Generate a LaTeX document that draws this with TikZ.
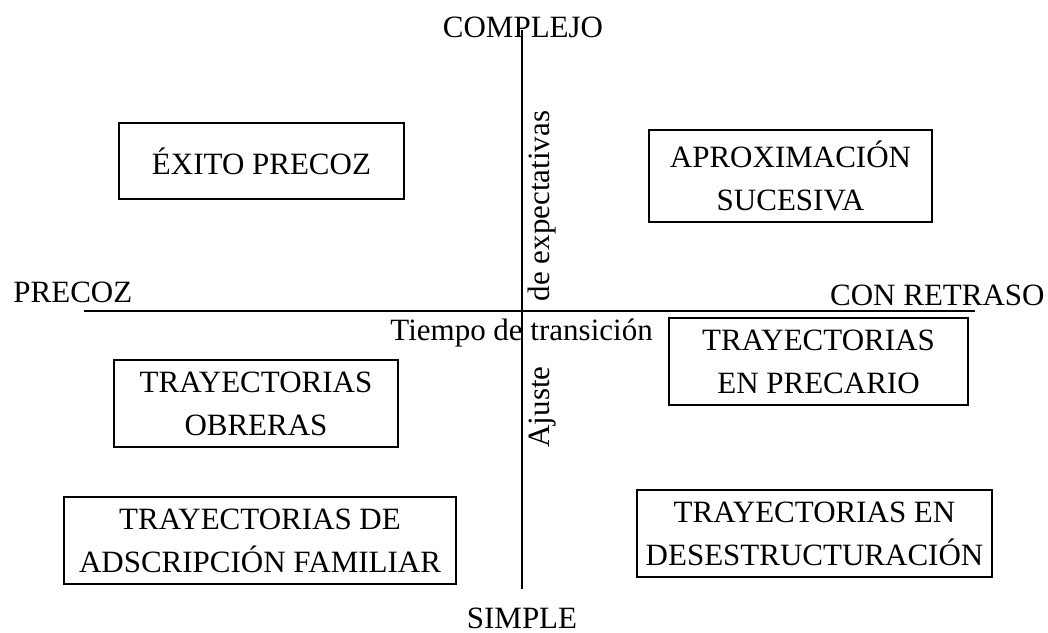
\documentclass[tikz,border=0pt]{standalone}
\usepackage{fontspec}
\setmainfont{Liberation Serif}
\newcommand\lblfont{\fontsize{15.5}{21.5}\selectfont}
\begin{document}
\begin{tikzpicture}[x=0.5pt,y=-0.5pt,
  quadbox/.style={draw, line width=1pt, inner sep=0pt, align=center, font=\lblfont},
  axislabel/.style={inner sep=0pt, font=\lblfont},
  axisline/.style={line width=1pt}]
\useasboundingbox[fill=white] (0,0) rectangle (1048,632);
% axes
\coordinate (top) at (521.5,30);
\coordinate (bot) at (521.5,589);
\coordinate (lft) at (84,310.5);
\coordinate (rgt) at (975,310.5);
\draw[axisline] (top) -- (bot);
\draw[axisline] (lft) -- (rgt);
% axis labels
\node[axislabel, anchor=base] (complejo) at (523,37) {COMPLEJO};
\node[axislabel, anchor=base] (simple) at (522,628) {SIMPLE};
\node[axislabel, anchor=base west] (precoz) at (13,302) {PRECOZ};
\node[axislabel, anchor=base east] (retraso) at (1045,305) {CON RETRASO};
\node[axislabel, anchor=base west] (tiempo) at (390,340) {Tiempo de transición};
\node[axislabel, rotate=90] (expect) at (542,206) {de expectativas};
\node[axislabel, rotate=90] (ajuste) at (543,407) {Ajuste};
% boxes
\node[quadbox, minimum width=142.5pt, minimum height=38pt] (exito) at (261.5,161) {ÉXITO PRECOZ};
\node[quadbox, minimum width=141.5pt, minimum height=46pt] (aprox) at (790.5,176) {APROXIMACIÓN\\SUCESIVA};
\node[quadbox, minimum width=142pt, minimum height=43.5pt] (obreras) at (256,403.5) {TRAYECTORIAS\\OBRERAS};
\node[quadbox, minimum width=149.5pt, minimum height=43.5pt] (precario) at (818.5,361.5) {TRAYECTORIAS\\EN PRECARIO};
\node[quadbox, minimum width=196pt, minimum height=43.5pt] (familiar) at (260,540.5) {TRAYECTORIAS DE\\ADSCRIPCIÓN FAMILIAR};
\node[quadbox, minimum width=177.5pt, minimum height=43.5pt] (desestr) at (814.5,533.5) {TRAYECTORIAS EN\\DESESTRUCTURACIÓN};
\end{tikzpicture}
\end{document}
